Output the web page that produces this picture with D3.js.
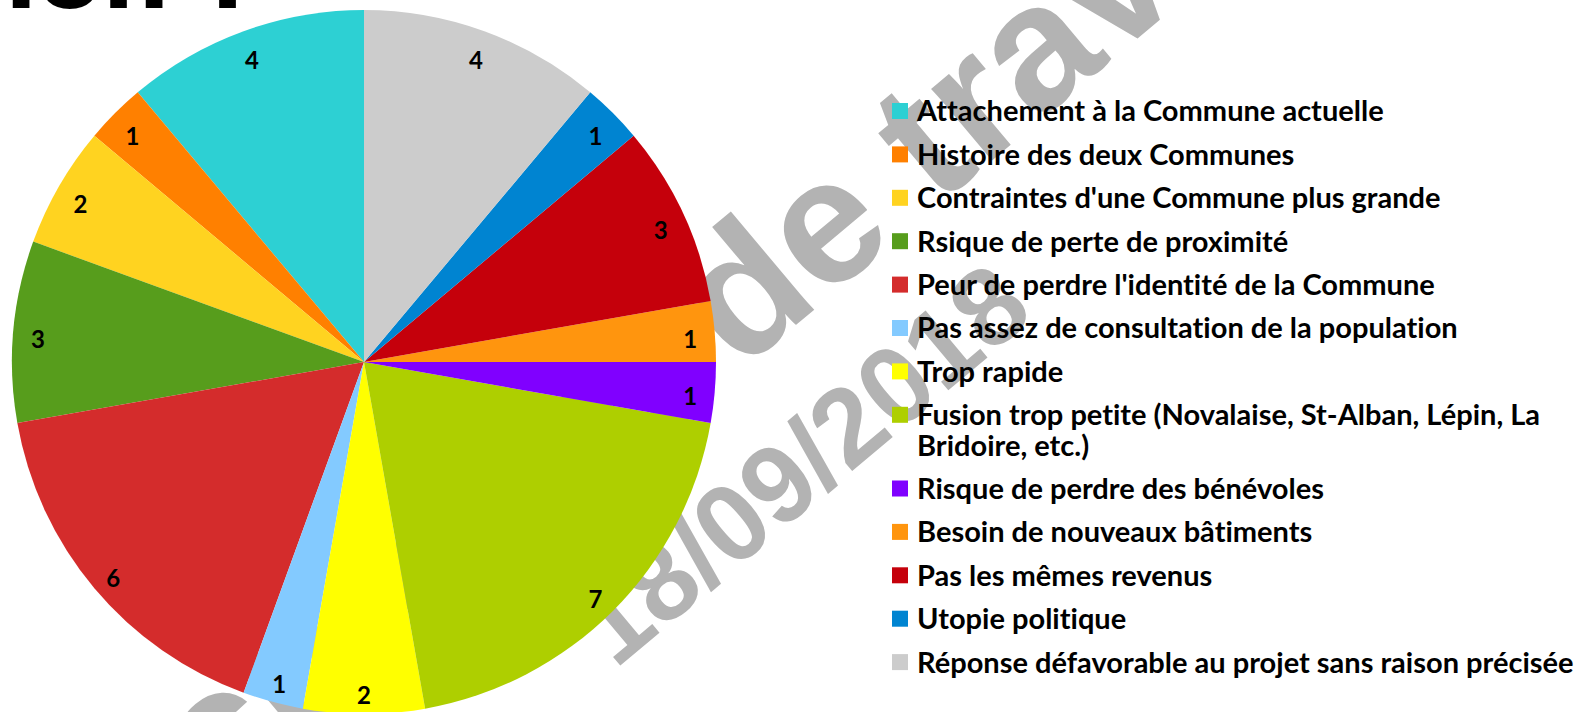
<!DOCTYPE html>
<html>
<head>
<meta charset="utf-8">
<script src="https://cdn.jsdelivr.net/npm/d3@7/dist/d3.min.js"></script>
<style>
body { margin: 0; background: #fff; overflow: hidden; }
text { font-family: Lato, "DejaVu Sans", sans-serif; font-weight: bold; font-variant-ligatures: none; }
</style>
</head>
<body>
<div id="chart"></div>
<script>
// data (number of answers per reason)
const categories = [
    "Attachement à la Commune actuelle",
    "Histoire des deux Communes",
    "Contraintes d'une Commune plus grande",
    "Rsique de perte de proximité",
    "Peur de perdre l'identité de la Commune",
    "Pas assez de consultation de la population",
    "Trop rapide",
    "Fusion trop petite (Novalaise, St-Alban, Lépin, La Bridoire, etc.)",
    "Risque de perdre des bénévoles",
    "Besoin de nouveaux bâtiments",
    "Pas les mêmes revenus",
    "Utopie politique",
    "Réponse défavorable au projet sans raison précisée"
];
const counts = [4, 1, 2, 3, 6, 1, 2, 7, 1, 1, 3, 1, 4];
const sliceColors = ["#2dd0d3", "#ff8000", "#ffd320", "#579d1c", "#d42c2c", "#83caff", "#ffff00",
    "#aecf00", "#8000ff", "#ff950e", "#c5000b", "#0084d1", "#cccccc"];

const titleText = "Pourquoi non ?";
const watermarkText = "Document de travail";
const watermarkDate = "18/09/2018";

let width = 1581,
    height = 712;

let svg = d3.select("#chart")
    .append("svg")
    .attr("width", width)
    .attr("height", height);

// watermark, sits behind the pie
let wmAngle = -40;
let wm1 = svg.append("text")
    .attr("fill", "#b3b3b3")
    .style("font-family", "'Liberation Sans', Arial, sans-serif")
    .style("font-size", "178px")
    .text(watermarkText);
// put the "d" of "de" at the spot seen in the picture
let offset = wm1.node().getSubStringLength(0, 9);
wm1.attr("x", -offset)
    .attr("transform", "translate(740,372) rotate(" + wmAngle + ")");

svg.append("text")
    .attr("fill", "#b3b3b3")
    .style("font-family", "'Liberation Sans', Arial, sans-serif")
    .style("font-size", "110px")
    .attr("transform", "translate(615,670) rotate(" + wmAngle + ")")
    .text(watermarkDate);

// slide title, mostly cut off at the top
svg.append("text")
    .attr("x", 258)
    .attr("y", 8)
    .attr("text-anchor", "end")
    .style("font-family", "'DejaVu Sans', sans-serif")
    .style("font-size", "95px")
    .attr("fill", "#000")
    .text(titleText);

// pie
let radius = 352;
let color = d3.scaleOrdinal().domain(categories).range(sliceColors);

let pie = d3.pie()
    .value(function (d, i) { return counts[i]; })
    .sort(null)
    .startAngle(0)
    .endAngle(-2 * Math.PI);

let arc = d3.arc().innerRadius(0).outerRadius(radius);
let labelArc = d3.arc().innerRadius(radius * 0.93).outerRadius(radius * 0.93);

let pieG = svg.append("g")
    .attr("transform", "translate(364,362)");

pieG.selectAll(".slice")
    .data(pie(categories))
    .enter()
    .append("path")
    .attr("class", "slice")
    .attr("d", arc)
    .attr("fill", function (d) { return color(d.data); });

pieG.selectAll(".lbl")
    .data(pie(categories))
    .enter()
    .append("text")
    .attr("class", "lbl")
    .attr("transform", function (d) { return "translate(" + labelArc.centroid(d) + ")"; })
    .attr("text-anchor", "middle")
    .attr("dy", "0.62em")
    .style("font-size", "24px")
    .attr("fill", "#000")
    .text(function (d, i) { return counts[i]; });

// legend
let legendX = 892,
    textX = 917,
    rowY = 111,
    rowStep = 43.4,
    lineStep = 30.3,
    maxTextWidth = 660;

// size the font so the longest single-line entry fills the width seen in the picture
let probe = svg.append("text").style("font-size", "20px").text(categories[12]);
let fontSize = 20 * 657 / probe.node().getComputedTextLength();
probe.remove();

let legend = svg.append("g").attr("class", "legend");

categories.forEach(function (name, i) {
    let t = legend.append("text")
        .style("font-size", fontSize + "px")
        .attr("fill", "#000");

    // simple word wrap
    let words = name.split(" ");
    let line = [];
    let lineNo = 0;
    let tspan = t.append("tspan").attr("x", textX).attr("y", rowY).attr("dy", "0.36em");
    words.forEach(function (w) {
        line.push(w);
        tspan.text(line.join(" "));
        if (tspan.node().getComputedTextLength() > maxTextWidth && line.length > 1) {
            line.pop();
            tspan.text(line.join(" "));
            line = [w];
            lineNo += 1;
            tspan = t.append("tspan")
                .attr("x", textX)
                .attr("y", rowY + lineNo * lineStep)
                .attr("dy", "0.36em")
                .text(w);
        }
    });

    legend.append("rect")
        .attr("x", legendX)
        .attr("y", rowY - 8)
        .attr("width", 16)
        .attr("height", 16)
        .attr("fill", color(name));

    rowY += rowStep + lineNo * lineStep;
});
</script>
</body>
</html>
